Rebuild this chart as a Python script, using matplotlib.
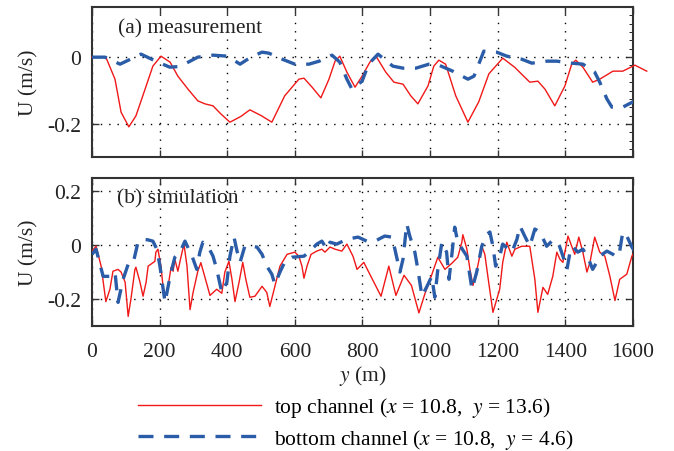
import numpy as np
import matplotlib.pyplot as plt

plt.rcParams['font.family'] = ['Liberation Serif', 'DejaVu Serif']
plt.rcParams['mathtext.fontset'] = 'stix'

# (a) measurement
ma_top_x = [0, 41, 68, 86, 109, 130, 157, 180, 204, 231, 254, 284, 313, 334, 358, 381, 408,
            440, 467, 500, 532, 570, 612, 627, 651, 677, 701, 719, 733, 754, 778, 799, 822,
            840, 869, 893, 920, 943, 964, 994, 1011, 1026, 1046, 1076, 1112, 1144, 1174,
            1215, 1250, 1295, 1319, 1340, 1369, 1399, 1419, 1431, 1452, 1481, 1502, 1541,
            1570, 1606, 1641]
ma_top_y = [0, 0, -0.066, -0.165, -0.209, -0.176, -0.096, -0.027, 0.003, -0.015, -0.057,
            -0.096, -0.131, -0.14, -0.146, -0.17, -0.195, -0.178, -0.158, -0.175, -0.195,
            -0.116, -0.066, -0.063, -0.09, -0.122, -0.066, -0.012, 0.003, -0.045, -0.09,
            -0.057, -0.015, 0.003, -0.045, -0.075, -0.081, -0.116, -0.14, -0.086, -0.027,
            -0.009, -0.021, -0.116, -0.195, -0.134, -0.05, -0.003, -0.03, -0.075, -0.072,
            -0.096, -0.146, -0.086, -0.021, -0.009, -0.03, -0.075, -0.066, -0.042, -0.042,
            -0.024, -0.042]
ma_bot_x = [0, 38, 83, 145, 195, 230, 260, 313, 358, 400, 438, 470, 503, 523, 560, 600,
            642, 672, 710, 733, 754, 769, 799, 818, 846, 890, 920, 958, 997, 1026, 1067,
            1112, 1130, 1144, 1159, 1197, 1227, 1271, 1301, 1345, 1375, 1419, 1452, 1487,
            1502, 1523, 1538, 1570, 1606]
ma_bot_y = [0, 0, -0.021, 0.009, -0.015, -0.03, -0.028, 0, 0.006, 0.003, -0.021, 0.0,
            0.015, 0.012, -0.005, -0.021, -0.021, -0.012, 0.006, -0.015, -0.066, -0.096,
            -0.072, -0.021, 0.009, -0.027, -0.033, -0.033, -0.021, -0.024, -0.042, -0.066,
            -0.057, -0.021, 0.018, 0.015, 0.003, -0.006, -0.018, -0.012, -0.012, -0.018,
            -0.021, -0.045, -0.075, -0.125, -0.15, -0.15, -0.131]

# (b) simulation
sim_top_x = [0, 12, 27, 41, 53, 62, 77, 86, 98, 107, 115, 127, 130, 142, 151, 160, 166, 174,
             186, 189, 195, 204, 210, 216, 225, 234, 240, 245, 254, 263, 272, 281, 290, 299,
             313, 322, 349, 369, 384, 393, 405, 414, 423, 435, 446, 455, 467, 482, 503, 517,
             526, 541, 556, 577, 600, 612, 621, 627, 636, 648, 665, 680, 689, 704, 719, 739,
             754, 772, 784, 804, 825, 855, 878, 899, 923, 945, 967, 985, 1005, 1023, 1044,
             1064, 1082, 1094, 1097, 1109, 1118, 1127, 1141, 1153, 1162, 1171, 1186, 1206,
             1215, 1227, 1242, 1251, 1271, 1295, 1310, 1319, 1334, 1348, 1363, 1375, 1384,
             1393, 1408, 1419, 1428, 1440, 1452, 1464, 1473, 1487, 1502, 1517, 1532, 1547,
             1561, 1582, 1597, 1606]
sim_top_y = [-0.022, -0.004, -0.078, -0.21, -0.164, -0.097, -0.09, -0.1, -0.138, -0.265,
             -0.202, -0.09, -0.082, -0.138, -0.19, -0.138, -0.078, -0.071, -0.06, -0.026,
             -0.015, -0.078, -0.153, -0.194, -0.153, -0.082, -0.097, -0.052, -0.097, -0.045,
             0.004, -0.078, -0.24, -0.176, -0.097, -0.065, -0.187, -0.164, -0.179, -0.1,
             -0.06, -0.127, -0.21, -0.138, -0.064, -0.127, -0.194, -0.19, -0.153, -0.176,
             -0.228, -0.153, -0.078, -0.034, -0.026, -0.041, -0.078, -0.123, -0.078, -0.034,
             -0.022, -0.015, -0.026, -0.007, -0.015, -0.022, 0.004, -0.041, -0.09, -0.064,
             -0.116, -0.19, -0.078, -0.187, -0.112, -0.15, -0.252, -0.18, -0.11, -0.045,
             -0.09, -0.068, -0.045, 0.011, 0.039, -0.015, -0.09, -0.15, -0.078, -0.004,
             -0.034, -0.116, -0.25, -0.164, -0.064, 0.011, -0.041, -0.015, -0.004, -0.004,
             -0.127, -0.25, -0.157, -0.183, -0.116, -0.026, -0.052, -0.064, 0.034, -0.004,
             -0.034, 0.03, -0.026, -0.1, -0.064, 0.03, -0.026, -0.041, -0.116, -0.206,
             -0.127, -0.108, -0.041, -0.022]
sim_bot_x = [0, 12, 33, 53, 68, 77, 92, 107, 121, 136, 148, 165, 180, 192, 201, 216, 231,
             245, 260, 275, 296, 310, 319, 328, 343, 358, 369, 384, 399, 408, 420, 429, 438,
             452, 470, 488, 503, 517, 532, 541, 556, 571, 591, 627, 645, 665, 680, 695, 704,
             724, 754, 787, 813, 837, 866, 887, 896, 911, 920, 931, 940, 955, 964, 976, 991,
             1005, 1014, 1023, 1035, 1049, 1056, 1064, 1073, 1082, 1109, 1124, 1138, 1153,
             1168, 1177, 1186, 1194, 1206, 1215, 1242, 1257, 1266, 1280, 1295, 1310, 1325,
             1345, 1360, 1378, 1393, 1405, 1414, 1422, 1437, 1452, 1467, 1481, 1493, 1502,
             1523, 1541, 1552, 1561, 1570, 1582, 1597, 1611]
sim_bot_y = [-0.034, -0.015, -0.116, -0.116, -0.1, -0.213, -0.127, -0.071, -0.071, 0.011,
             0.022, 0.02, 0.015, -0.015, -0.078, -0.213, -0.116, -0.045, -0.026, 0.015,
             -0.041, -0.09, -0.026, 0.011, -0.004, -0.041, -0.09, -0.176, -0.138, -0.041,
             0.03, -0.022, -0.064, -0.004, -0.004, -0.007, -0.034, -0.078, -0.108, -0.146,
             -0.1, -0.06, -0.045, -0.041, -0.022, 0.004, 0.015, -0.015, 0.011, 0.004, 0.022,
             0.03, 0.015, 0.015, 0.034, 0.03, -0.015, -0.1, -0.052, 0.079, 0.034, -0.026,
             -0.09, -0.19, -0.153, -0.116, -0.194, -0.09, 0.011, -0.026, -0.127, -0.041,
             0.067, 0.011, -0.041, -0.164, -0.1, -0.004, 0.041, 0.049, -0.004, -0.078,
             -0.041, 0.004, -0.026, 0.022, 0.071, 0.034, -0.004, 0.06, 0.049, -0.004, 0.015,
             0.015, -0.041, -0.09, -0.026, -0.004, -0.026, -0.015, -0.045, -0.09, -0.064,
             -0.041, -0.022, -0.034, -0.045, -0.022, 0.049, 0.034, -0.007, -0.034]

red = '#f01818'
blue = '#2a5ca8'
fs = 15.5

fig = plt.figure(figsize=(6.74, 4.52), dpi=100)
ax1 = fig.add_axes([0.1365, 0.650, 0.8025, 0.332])
ax2 = fig.add_axes([0.1365, 0.277, 0.8025, 0.327])

ax1.plot(ma_top_x, ma_top_y, color=red, lw=1.0, clip_on=False, zorder=3)
ax1.plot(ma_bot_x, ma_bot_y, color=blue, lw=2.4, dashes=(4.5, 3.2), zorder=4)
ax2.plot(sim_top_x, sim_top_y, color=red, lw=1.0, zorder=3,
         label='top channel ($x$ = 10.8,  $y$ = 13.6)')
ax2.plot(sim_bot_x, sim_bot_y, color=blue, lw=2.4, dashes=(4.5, 3.2), zorder=4,
         label='bottom channel ($x$ = 10.8,  $y$ = 4.6)')

ax1.set_ylim(-0.3, 0.15)
ax1.set_yticks([-0.2, 0])
ax1.set_yticklabels(['-0.2', '0'])
ax2.set_ylim(-0.3, 0.25)
ax2.set_yticks([-0.2, 0, 0.2])
ax2.set_yticklabels(['-0.2', '0', '0.2'])

for ax in (ax1, ax2):
    ax.set_xlim(0, 1600)
    ax.set_xticks(np.arange(0, 1601, 200))
    ax.grid(True, color='black', linestyle=(0, (1, 5)), lw=1.0)
    ax.tick_params(direction='in', top=True, right=True, length=5, width=1, pad=8,
                   labelsize=fs, colors='#333333', labelcolor='#222222')
    ax.tick_params(axis='x', pad=12)
    for s in ax.spines.values():
        s.set_linewidth(1.5)
        s.set_color('#333333')
    ax.set_ylabel('U (m/s)', fontsize=fs, color='#222222', labelpad=6)

ax1.tick_params(labelbottom=False)
ax1.yaxis.set_minor_locator(plt.MultipleLocator(0.025))
ax1.tick_params(which='minor', direction='in', left=False, right=True, length=3)

ax1.text(0.048, 0.865, '(a) measurement', transform=ax1.transAxes, fontsize=fs,
         va='center', color='#222222')
ax2.text(0.046, 0.865, '(b) simulation', transform=ax2.transAxes, fontsize=fs,
         va='center', color='#222222')
ax2.set_xlabel('$y$ (m)', fontsize=fs, color='#222222', labelpad=1)

fig.legend(loc='center left', bbox_to_anchor=(0.2047, 0.062), frameon=False, fontsize=fs,
           handlelength=5.7, labelspacing=0.35, handletextpad=0.6,
           borderpad=0, borderaxespad=0)

fig.savefig('out.png', dpi=100)
